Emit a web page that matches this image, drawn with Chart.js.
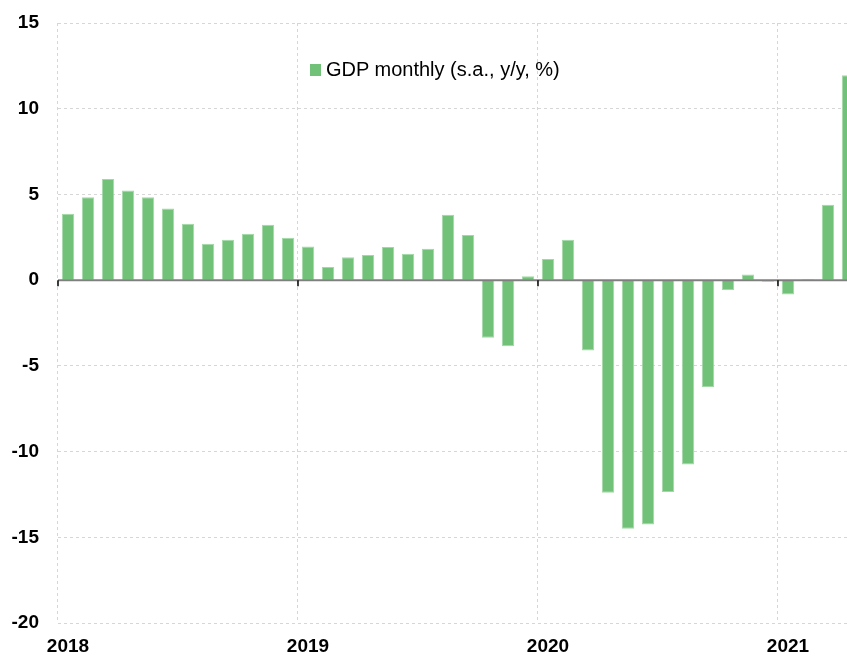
<!DOCTYPE html>
<html>
<head>
<meta charset="utf-8">
<script src="https://cdn.jsdelivr.net/npm/chart.js@4"></script>
<style>
    body { margin: 0; overflow: hidden; background: #fff; }
    #wrap { position: relative; width: 860px; height: 657px; }
    #legend {
        position: absolute; left: 310px; top: 59px;
        font: 20px "Liberation Sans", Arial, sans-serif; line-height: 20px;
        color: #000; white-space: nowrap;
    }
    #legend span {
        display: inline-block; width: 11px; height: 12px; margin-right: 5px;
    }
</style>
</head>
<body>
<div id="wrap">
    <canvas id="grafik"></canvas>
    <div id="legend"></div>
</div>
<script>
const mjeseci = [
    "2018-01", "2018-02", "2018-03", "2018-04", "2018-05", "2018-06",
    "2018-07", "2018-08", "2018-09", "2018-10", "2018-11", "2018-12",
    "2019-01", "2019-02", "2019-03", "2019-04", "2019-05", "2019-06",
    "2019-07", "2019-08", "2019-09", "2019-10", "2019-11", "2019-12",
    "2020-01", "2020-02", "2020-03", "2020-04", "2020-05", "2020-06",
    "2020-07", "2020-08", "2020-09", "2020-10", "2020-11", "2020-12",
    "2021-01", "2021-02", "2021-03", "2021-04"
];

const bdpMjesecni = [
    3.87, 4.84, 5.9, 5.23, 4.84, 4.18, 3.29, 2.12, 2.35, 2.7, 3.23, 2.47,
    1.96, 0.76, 1.34, 1.46, 1.93, 1.54, 1.83, 3.81, 2.64, -3.36, -3.85, 0.22,
    1.24, 2.35, -4.1, -12.4, -14.5, -14.25, -12.36, -10.75, -6.24, -0.57, 0.33, -0.1,
    -0.84, 0.05, 4.4, 11.95
];

const yTicks = [15, 10, 5, 0, -5, -10, -15, -20];

const nazivSerije = "GDP monthly (s.a., y/y, %)";
const bojaSerije = "#71c179";

const font = "'Liberation Sans', Arial, sans-serif";
const gridBoja = "#d6d6d6";

// nulta linija i kratke crtice na granicama godina
const nultaLinija = {
    id: "nultaLinija",
    afterDatasetsDraw(chart) {
        const ctx = chart.ctx;
        const x = chart.scales.x;
        const y0 = chart.scales.y.getPixelForValue(0);
        const area = chart.chartArea;
        const korak = x.getPixelForValue(1) - x.getPixelForValue(0);

        ctx.save();
        ctx.strokeStyle = "#7f7f7f";
        ctx.lineWidth = 2;
        ctx.beginPath();
        ctx.moveTo(area.left, y0);
        ctx.lineTo(area.right, y0);
        ctx.stroke();

        ctx.strokeStyle = "#000";
        ctx.lineWidth = 1.5;
        mjeseci.forEach((m, i) => {
            if (m.endsWith("-01")) {
                let px = x.getPixelForValue(i) - korak / 2;
                ctx.beginPath();
                ctx.moveTo(px, y0);
                ctx.lineTo(px, y0 + 6);
                ctx.stroke();
            }
        });
        ctx.restore();
    }
};

let canvas = document.getElementById("grafik");
canvas.width = 860;
canvas.height = 657;

new Chart(canvas, {
    type: "bar",
    data: {
        labels: mjeseci,
        datasets: [{
            label: nazivSerije,
            data: bdpMjesecni,
            backgroundColor: bojaSerije,
            borderColor: "#a2d8a6",
            borderWidth: 1,
            barPercentage: 0.62,
            categoryPercentage: 1
        }]
    },
    options: {
        responsive: false,
        animation: false,
        layout: {
            padding: { top: 23, right: 2, left: 0, bottom: 0 }
        },
        plugins: {
            legend: { display: false },
            tooltip: { enabled: false }
        },
        scales: {
            x: {
                offset: true,
                border: { display: false, dash: [3, 3] },
                grid: {
                    offset: true,
                    drawTicks: false,
                    lineWidth: 1,
                    color: c => (c.index % 12 === 0) ? gridBoja : "rgba(0,0,0,0)"
                },
                ticks: {
                    autoSkip: false,
                    maxRotation: 0,
                    padding: 12,
                    color: "#000",
                    font: { family: font, size: 19, weight: "bold" },
                    callback: function (v) {
                        let lab = this.getLabelForValue(v);
                        return lab.endsWith("-01") ? lab.slice(0, 4) : "";
                    }
                },
                afterFit: s => { s.height = 34; }
            },
            y: {
                min: -20,
                max: 15,
                border: { display: false, dash: [3, 3] },
                grid: {
                    color: gridBoja,
                    drawTicks: false,
                    lineWidth: 1
                },
                afterBuildTicks: s => { s.ticks = yTicks.map(v => ({ value: v })); },
                ticks: {
                    padding: 19,
                    color: "#000",
                    font: { family: font, size: 19, weight: "bold" }
                },
                afterFit: s => {
                    s.width = 58;
                    s.paddingTop = 0;
                    s.paddingBottom = 0;
                }
            }
        }
    },
    plugins: [nultaLinija]
});

document.getElementById("legend").innerHTML =
    "<span style=\"background:" + bojaSerije + "\"></span>" + nazivSerije;
</script>
</body>
</html>
